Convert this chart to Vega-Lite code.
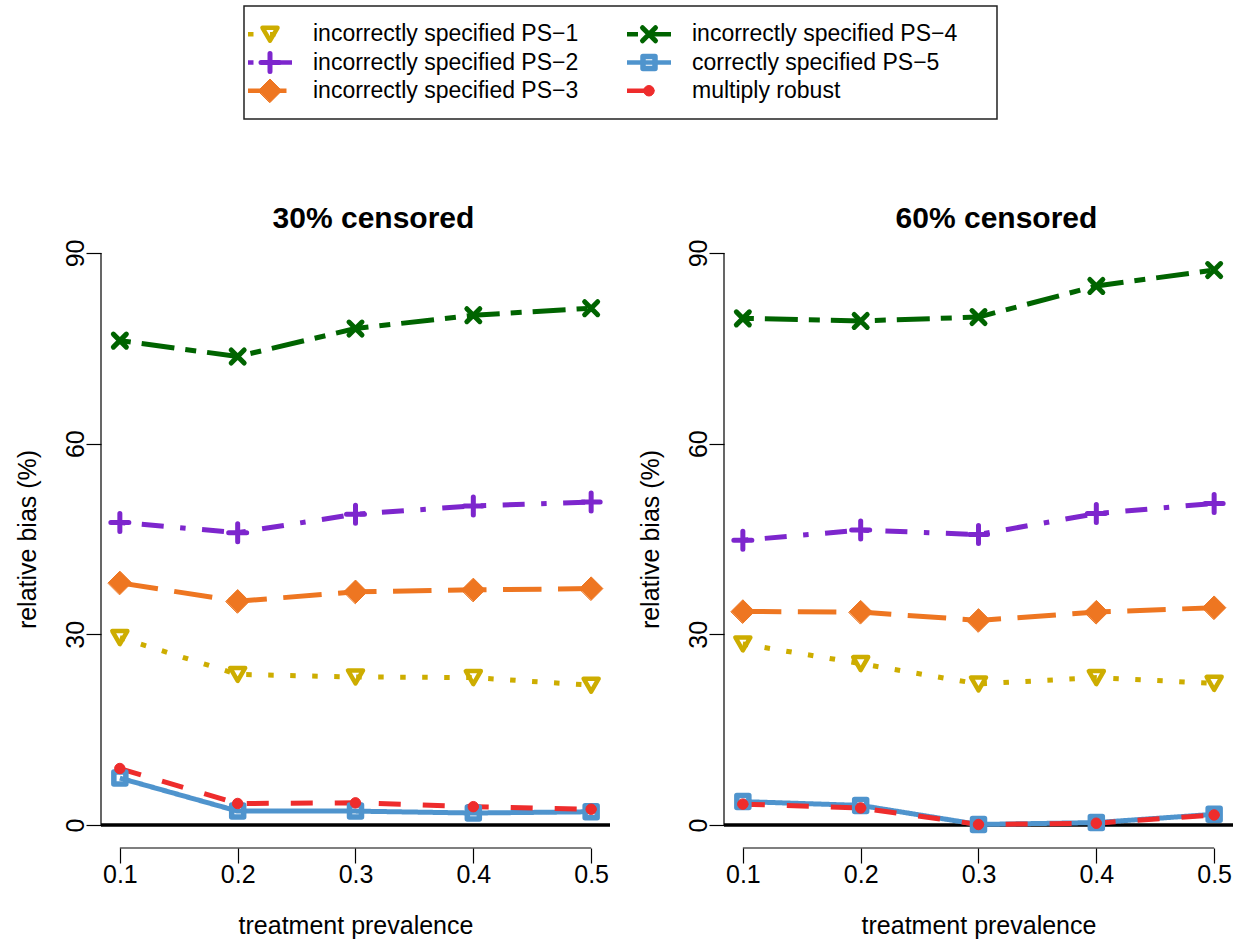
{
  "$schema": "https://vega.github.io/schema/vega-lite/v6.json",
  "padding": {"left": 15, "top": 5, "right": 5, "bottom": 5},
  "bounds": "flush",
  "spacing": 111,
  "config": {
    "view": {"stroke": null},
    "font": "Liberation Sans",
    "axis": {
      "labelFont": "Liberation Sans", "titleFont": "Liberation Sans",
      "labelColor": "black", "titleColor": "black", "tickColor": "black",
      "grid": false, "domain": false, "labelFontSize": 25, "titleFontSize": 25,
      "titleFontWeight": "normal", "tickSize": 15, "tickWidth": 1.2
    },
    "title": {"font": "Liberation Sans", "color": "black"}
  },
  "datasets": {
    "main": [
      {"panel": "30", "series": "PS1", "x": 0.1, "y": 29.5},
      {"panel": "30", "series": "PS1", "x": 0.2, "y": 23.7},
      {"panel": "30", "series": "PS1", "x": 0.3, "y": 23.3},
      {"panel": "30", "series": "PS1", "x": 0.4, "y": 23.2},
      {"panel": "30", "series": "PS1", "x": 0.5, "y": 22.0},
      {"panel": "30", "series": "PS2", "x": 0.1, "y": 47.6},
      {"panel": "30", "series": "PS2", "x": 0.2, "y": 46.0},
      {"panel": "30", "series": "PS2", "x": 0.3, "y": 48.9},
      {"panel": "30", "series": "PS2", "x": 0.4, "y": 50.2},
      {"panel": "30", "series": "PS2", "x": 0.5, "y": 50.8},
      {"panel": "30", "series": "PS3", "x": 0.1, "y": 38.1},
      {"panel": "30", "series": "PS3", "x": 0.2, "y": 35.2},
      {"panel": "30", "series": "PS3", "x": 0.3, "y": 36.7},
      {"panel": "30", "series": "PS3", "x": 0.4, "y": 37.0},
      {"panel": "30", "series": "PS3", "x": 0.5, "y": 37.2},
      {"panel": "30", "series": "PS4", "x": 0.1, "y": 76.2},
      {"panel": "30", "series": "PS4", "x": 0.2, "y": 73.7},
      {"panel": "30", "series": "PS4", "x": 0.3, "y": 78.1},
      {"panel": "30", "series": "PS4", "x": 0.4, "y": 80.2},
      {"panel": "30", "series": "PS4", "x": 0.5, "y": 81.3},
      {"panel": "30", "series": "PS5", "x": 0.1, "y": 7.4},
      {"panel": "30", "series": "PS5", "x": 0.2, "y": 2.2},
      {"panel": "30", "series": "PS5", "x": 0.3, "y": 2.2},
      {"panel": "30", "series": "PS5", "x": 0.4, "y": 1.9},
      {"panel": "30", "series": "PS5", "x": 0.5, "y": 2.1},
      {"panel": "30", "series": "MR", "x": 0.1, "y": 8.9},
      {"panel": "30", "series": "MR", "x": 0.2, "y": 3.4},
      {"panel": "30", "series": "MR", "x": 0.3, "y": 3.5},
      {"panel": "30", "series": "MR", "x": 0.4, "y": 2.9},
      {"panel": "30", "series": "MR", "x": 0.5, "y": 2.5},
      {"panel": "60", "series": "PS1", "x": 0.1, "y": 28.5},
      {"panel": "60", "series": "PS1", "x": 0.2, "y": 25.4},
      {"panel": "60", "series": "PS1", "x": 0.3, "y": 22.2},
      {"panel": "60", "series": "PS1", "x": 0.4, "y": 23.2},
      {"panel": "60", "series": "PS1", "x": 0.5, "y": 22.3},
      {"panel": "60", "series": "PS2", "x": 0.1, "y": 44.8},
      {"panel": "60", "series": "PS2", "x": 0.2, "y": 46.4},
      {"panel": "60", "series": "PS2", "x": 0.3, "y": 45.7},
      {"panel": "60", "series": "PS2", "x": 0.4, "y": 49.0},
      {"panel": "60", "series": "PS2", "x": 0.5, "y": 50.6},
      {"panel": "60", "series": "PS3", "x": 0.1, "y": 33.6},
      {"panel": "60", "series": "PS3", "x": 0.2, "y": 33.5},
      {"panel": "60", "series": "PS3", "x": 0.3, "y": 32.2},
      {"panel": "60", "series": "PS3", "x": 0.4, "y": 33.5},
      {"panel": "60", "series": "PS3", "x": 0.5, "y": 34.2},
      {"panel": "60", "series": "PS4", "x": 0.1, "y": 79.7},
      {"panel": "60", "series": "PS4", "x": 0.2, "y": 79.3},
      {"panel": "60", "series": "PS4", "x": 0.3, "y": 79.9},
      {"panel": "60", "series": "PS4", "x": 0.4, "y": 84.8},
      {"panel": "60", "series": "PS4", "x": 0.5, "y": 87.3},
      {"panel": "60", "series": "PS5", "x": 0.1, "y": 3.7},
      {"panel": "60", "series": "PS5", "x": 0.2, "y": 3.1},
      {"panel": "60", "series": "PS5", "x": 0.3, "y": 0.1},
      {"panel": "60", "series": "PS5", "x": 0.4, "y": 0.4},
      {"panel": "60", "series": "PS5", "x": 0.5, "y": 1.7},
      {"panel": "60", "series": "MR", "x": 0.1, "y": 3.3},
      {"panel": "60", "series": "MR", "x": 0.2, "y": 2.7},
      {"panel": "60", "series": "MR", "x": 0.3, "y": 0.1},
      {"panel": "60", "series": "MR", "x": 0.4, "y": 0.3},
      {"panel": "60", "series": "MR", "x": 0.5, "y": 1.6}
    ],
    "legend": [
      {"series": "PS1", "label": "incorrectly specified PS−1", "col": 0, "row": 1},
      {"series": "PS2", "label": "incorrectly specified PS−2", "col": 0, "row": 2},
      {"series": "PS3", "label": "incorrectly specified PS−3", "col": 0, "row": 3},
      {"series": "PS4", "label": "incorrectly specified PS−4", "col": 1, "row": 1},
      {"series": "PS5", "label": "correctly specified PS−5", "col": 1, "row": 2},
      {"series": "MR", "label": "multiply robust", "col": 1, "row": 3}
    ]
  },
  "vconcat": [
    {
      "width": 1132,
      "height": 113,
      "layer": [
        {
          "data": {"values": [{}]},
          "mark": {"type": "rect", "fill": "white", "fillOpacity": 0, "stroke": "#222222", "strokeWidth": 1.5},
          "encoding": {
            "x": {"datum": -0.0686, "type": "quantitative", "scale": {"domain": [-0.4459, 2.5409], "nice": false, "zero": false}, "axis": null},
            "x2": {"datum": 1.9182},
            "y": {"datum": 0, "type": "quantitative", "scale": {"domain": [0, 4], "reverse": true, "nice": false, "zero": false}, "axis": null},
            "y2": {"datum": 4}
          }
        },
        {
          "data": {"name": "legend"},
          "mark": {"type": "rule", "strokeWidth": 4.5, "strokeCap": "butt", "xOffset": -22, "x2Offset": 22},
          "encoding": {
            "x": {"field": "col", "type": "quantitative", "scale": {"domain": [-0.4459, 2.5409], "nice": false, "zero": false}, "axis": null},
            "x2": {"field": "col"},
            "y": {"field": "row", "type": "quantitative", "scale": {"domain": [0, 4], "reverse": true, "nice": false, "zero": false}, "axis": null},
            "color": {"field": "series", "type": "nominal", "scale": {"domain": ["PS1", "PS2", "PS3", "PS4", "PS5", "MR"], "range": ["#CDAD00", "#7D26CD", "#EE7621", "#006400", "#4F94CD", "#EE2C2C"]}, "legend": null},
            "strokeDash": {"field": "series", "type": "nominal", "scale": {"domain": ["PS1", "PS2", "PS3", "PS4", "PS5", "MR"], "range": [[5.5, 16.5], [5.5, 16.5, 22, 16.5], [38.5, 16.5], [11, 11, 33, 11], [1, 0], [22, 22]]}, "legend": null}
          }
        },
        {
          "data": {"name": "legend"},
          "mark": {"type": "point", "filled": false, "opacity": 1, "strokeCap": "round", "strokeJoin": "round"},
          "encoding": {
            "x": {"field": "col", "type": "quantitative", "scale": {"domain": [-0.4459, 2.5409], "nice": false, "zero": false}, "axis": null},
            "y": {"field": "row", "type": "quantitative", "scale": {"domain": [0, 4], "reverse": true, "nice": false, "zero": false}, "axis": null},
            "stroke": {"field": "series", "type": "nominal", "scale": {"domain": ["PS1", "PS2", "PS3", "PS4", "PS5", "MR"], "range": ["#CDAD00", "#7D26CD", "#EE7621", "#006400", "#4F94CD", "#EE2C2C"]}, "legend": null},
            "fill": {"field": "series", "type": "nominal", "scale": {"domain": ["PS1", "PS2", "PS3", "PS4", "PS5", "MR"], "range": ["transparent", "transparent", "#EE7621", "transparent", "transparent", "#EE2C2C"]}, "legend": null},
            "shape": {"field": "series", "type": "nominal", "scale": {"domain": ["PS1", "PS2", "PS3", "PS4", "PS5", "MR"], "range": ["triangle-down", "M-1,0L1,0M0,-1L0,1", "diamond", "M-1,-1L1,1M1,-1L-1,1", "square", "circle"]}, "legend": null},
            "size": {"field": "series", "type": "nominal", "scale": {"type": "ordinal", "domain": ["PS1", "PS2", "PS3", "PS4", "PS5", "MR"], "range": [225, 324, 550, 169, 144, 110]}, "legend": null},
            "strokeWidth": {"field": "series", "type": "nominal", "scale": {"type": "ordinal", "domain": ["PS1", "PS2", "PS3", "PS4", "PS5", "MR"], "range": [4.5, 5, 1, 5, 5.5, 1]}, "legend": null}
          }
        },
        {
          "data": {"name": "legend"},
          "mark": {"type": "text", "align": "left", "baseline": "middle", "dx": 43, "fontSize": 23, "font": "Liberation Sans", "color": "black"},
          "encoding": {
            "x": {"field": "col", "type": "quantitative", "scale": {"domain": [-0.4459, 2.5409], "nice": false, "zero": false}, "axis": null},
            "y": {"field": "row", "type": "quantitative", "scale": {"domain": [0, 4], "reverse": true, "nice": false, "zero": false}, "axis": null},
            "text": {"field": "label"}
          }
        }
      ]
    },
    {
      "bounds": "flush",
      "spacing": 114,
      "hconcat": [
        {
          "width": 509,
          "height": 618,
          "title": {"text": "30% censored", "fontSize": 30, "fontWeight": "bold", "anchor": "middle", "baseline": "alphabetic", "offset": -28, "dx": 18},
          "layer": [
            {
              "data": {"values": [{}]},
              "mark": {"type": "rule", "color": "black", "strokeWidth": 3.5},
              "encoding": {
                "y": {"datum": 0, "type": "quantitative", "scale": {"domain": [-3.6, 93.6], "nice": false, "zero": false},
                      "axis": {"values": [0, 30, 60, 90], "title": "relative bias (%)", "labelAngle": -90, "labelAlign": "center", "labelBaseline": "alphabetic", "labelPadding": 3, "titleAngle": -90, "titleX": -66, "titleY": 309, "titleAlign": "center", "titleBaseline": "alphabetic"}}
              }
            },
            {
              "data": {"values": [{}]},
              "mark": {"type": "rule", "color": "black", "strokeWidth": 1.2},
              "encoding": {
                "x": {"datum": 0.084, "type": "quantitative", "scale": {"domain": [0.084, 0.516], "nice": false, "zero": false},
                      "axis": {"values": [0.1, 0.2, 0.3, 0.4, 0.5], "format": ".1f", "title": "treatment prevalence", "labelPadding": 19, "labelBaseline": "alphabetic", "labelFlush": false, "labelOverlap": false, "titleY": 85, "titleBaseline": "alphabetic"}},
                "y": {"datum": 0, "type": "quantitative"},
                "y2": {"datum": 90}
              }
            },
            {
              "data": {"values": [{}]},
              "mark": {"type": "rule", "color": "black", "strokeWidth": 1.2},
              "encoding": {
                "x": {"datum": 0.1, "type": "quantitative"},
                "x2": {"datum": 0.5},
                "y": {"datum": -3.6, "type": "quantitative"}
              }
            },
            {
              "data": {"name": "main"},
              "transform": [{"filter": "datum.panel === '30'"}],
              "mark": {"type": "line", "strokeWidth": 5, "strokeCap": "butt", "strokeJoin": "round"},
              "encoding": {
                "x": {"field": "x", "type": "quantitative"},
                "y": {"field": "y", "type": "quantitative"},
                "color": {"field": "series", "type": "nominal", "scale": {"domain": ["PS1", "PS2", "PS3", "PS4", "PS5", "MR"], "range": ["#CDAD00", "#7D26CD", "#EE7621", "#006400", "#4F94CD", "#EE2C2C"]}, "legend": null},
                "strokeDash": {"field": "series", "type": "nominal", "scale": {"domain": ["PS1", "PS2", "PS3", "PS4", "PS5", "MR"], "range": [[5.5, 16.5], [5.5, 16.5, 22, 16.5], [38.5, 16.5], [11, 11, 33, 11], [1, 0], [22, 22]]}, "legend": null}
              }
            },
            {
              "data": {"name": "main"},
              "transform": [{"filter": "datum.panel === '30'"}],
              "mark": {"type": "point", "filled": false, "opacity": 1, "strokeCap": "round", "strokeJoin": "round"},
              "encoding": {
                "x": {"field": "x", "type": "quantitative"},
                "y": {"field": "y", "type": "quantitative"},
                "stroke": {"field": "series", "type": "nominal", "scale": {"domain": ["PS1", "PS2", "PS3", "PS4", "PS5", "MR"], "range": ["#CDAD00", "#7D26CD", "#EE7621", "#006400", "#4F94CD", "#EE2C2C"]}, "legend": null},
                "fill": {"field": "series", "type": "nominal", "scale": {"domain": ["PS1", "PS2", "PS3", "PS4", "PS5", "MR"], "range": ["transparent", "transparent", "#EE7621", "transparent", "transparent", "#EE2C2C"]}, "legend": null},
                "shape": {"field": "series", "type": "nominal", "scale": {"domain": ["PS1", "PS2", "PS3", "PS4", "PS5", "MR"], "range": ["triangle-down", "M-1,0L1,0M0,-1L0,1", "diamond", "M-1,-1L1,1M1,-1L-1,1", "square", "circle"]}, "legend": null},
                "size": {"field": "series", "type": "nominal", "scale": {"type": "ordinal", "domain": ["PS1", "PS2", "PS3", "PS4", "PS5", "MR"], "range": [225, 324, 550, 169, 144, 110]}, "legend": null},
                "strokeWidth": {"field": "series", "type": "nominal", "scale": {"type": "ordinal", "domain": ["PS1", "PS2", "PS3", "PS4", "PS5", "MR"], "range": [4.5, 5, 1, 5, 5.5, 1]}, "legend": null}
              }
            }
          ]
        },
        {
          "width": 509,
          "height": 618,
          "title": {"text": "60% censored", "fontSize": 30, "fontWeight": "bold", "anchor": "middle", "baseline": "alphabetic", "offset": -28, "dx": 18},
          "layer": [
            {
              "data": {"values": [{}]},
              "mark": {"type": "rule", "color": "black", "strokeWidth": 3.5},
              "encoding": {
                "y": {"datum": 0, "type": "quantitative", "scale": {"domain": [-3.6, 93.6], "nice": false, "zero": false},
                      "axis": {"values": [0, 30, 60, 90], "title": "relative bias (%)", "labelAngle": -90, "labelAlign": "center", "labelBaseline": "alphabetic", "labelPadding": 3, "titleAngle": -90, "titleX": -66, "titleY": 309, "titleAlign": "center", "titleBaseline": "alphabetic"}}
              }
            },
            {
              "data": {"values": [{}]},
              "mark": {"type": "rule", "color": "black", "strokeWidth": 1.2},
              "encoding": {
                "x": {"datum": 0.084, "type": "quantitative", "scale": {"domain": [0.084, 0.516], "nice": false, "zero": false},
                      "axis": {"values": [0.1, 0.2, 0.3, 0.4, 0.5], "format": ".1f", "title": "treatment prevalence", "labelPadding": 19, "labelBaseline": "alphabetic", "labelFlush": false, "labelOverlap": false, "titleY": 85, "titleBaseline": "alphabetic"}},
                "y": {"datum": 0, "type": "quantitative"},
                "y2": {"datum": 90}
              }
            },
            {
              "data": {"values": [{}]},
              "mark": {"type": "rule", "color": "black", "strokeWidth": 1.2},
              "encoding": {
                "x": {"datum": 0.1, "type": "quantitative"},
                "x2": {"datum": 0.5},
                "y": {"datum": -3.6, "type": "quantitative"}
              }
            },
            {
              "data": {"name": "main"},
              "transform": [{"filter": "datum.panel === '60'"}],
              "mark": {"type": "line", "strokeWidth": 5, "strokeCap": "butt", "strokeJoin": "round"},
              "encoding": {
                "x": {"field": "x", "type": "quantitative"},
                "y": {"field": "y", "type": "quantitative"},
                "color": {"field": "series", "type": "nominal", "scale": {"domain": ["PS1", "PS2", "PS3", "PS4", "PS5", "MR"], "range": ["#CDAD00", "#7D26CD", "#EE7621", "#006400", "#4F94CD", "#EE2C2C"]}, "legend": null},
                "strokeDash": {"field": "series", "type": "nominal", "scale": {"domain": ["PS1", "PS2", "PS3", "PS4", "PS5", "MR"], "range": [[5.5, 16.5], [5.5, 16.5, 22, 16.5], [38.5, 16.5], [11, 11, 33, 11], [1, 0], [22, 22]]}, "legend": null}
              }
            },
            {
              "data": {"name": "main"},
              "transform": [{"filter": "datum.panel === '60'"}],
              "mark": {"type": "point", "filled": false, "opacity": 1, "strokeCap": "round", "strokeJoin": "round"},
              "encoding": {
                "x": {"field": "x", "type": "quantitative"},
                "y": {"field": "y", "type": "quantitative"},
                "stroke": {"field": "series", "type": "nominal", "scale": {"domain": ["PS1", "PS2", "PS3", "PS4", "PS5", "MR"], "range": ["#CDAD00", "#7D26CD", "#EE7621", "#006400", "#4F94CD", "#EE2C2C"]}, "legend": null},
                "fill": {"field": "series", "type": "nominal", "scale": {"domain": ["PS1", "PS2", "PS3", "PS4", "PS5", "MR"], "range": ["transparent", "transparent", "#EE7621", "transparent", "transparent", "#EE2C2C"]}, "legend": null},
                "shape": {"field": "series", "type": "nominal", "scale": {"domain": ["PS1", "PS2", "PS3", "PS4", "PS5", "MR"], "range": ["triangle-down", "M-1,0L1,0M0,-1L0,1", "diamond", "M-1,-1L1,1M1,-1L-1,1", "square", "circle"]}, "legend": null},
                "size": {"field": "series", "type": "nominal", "scale": {"type": "ordinal", "domain": ["PS1", "PS2", "PS3", "PS4", "PS5", "MR"], "range": [225, 324, 550, 169, 144, 110]}, "legend": null},
                "strokeWidth": {"field": "series", "type": "nominal", "scale": {"type": "ordinal", "domain": ["PS1", "PS2", "PS3", "PS4", "PS5", "MR"], "range": [4.5, 5, 1, 5, 5.5, 1]}, "legend": null}
              }
            }
          ]
        }
      ]
    }
  ]
}
